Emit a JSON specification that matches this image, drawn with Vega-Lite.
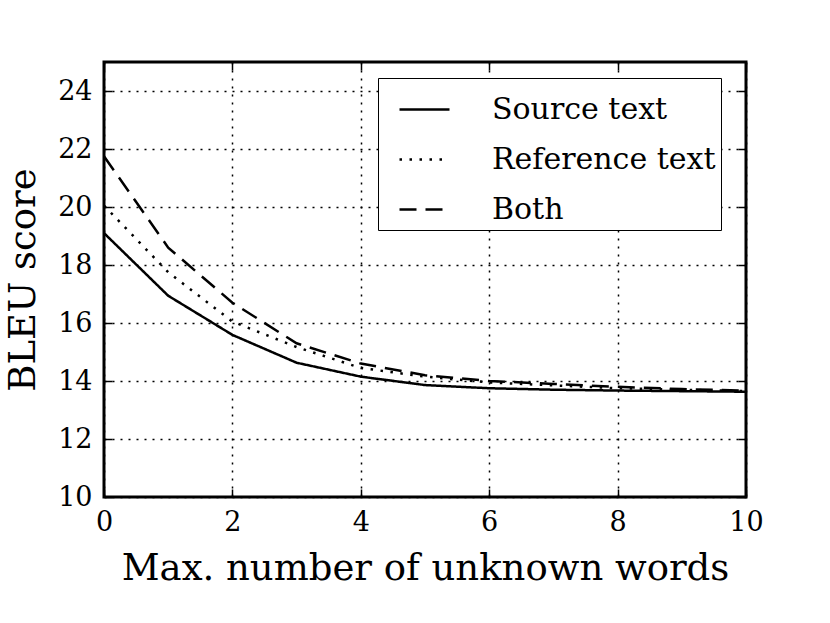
{
  "$schema": "https://vega.github.io/schema/vega-lite/v6.json",
  "width": 642,
  "height": 435,
  "autosize": {"type": "none"},
  "padding": {"left": 104, "top": 62, "right": 84, "bottom": 126},
  "background": "white",
  "config": {
    "font": "DejaVu Serif",
    "view": {"stroke": "black", "strokeWidth": 3},
    "axis": {"labelFont": "DejaVu Serif", "titleFont": "DejaVu Serif", "labelColor": "black", "titleColor": "black", "titleFontWeight": "normal"}
  },
  "data": {"values": [
    {"x": 0, "y": 19.1, "s": "Source text"},
    {"x": 1, "y": 16.94, "s": "Source text"},
    {"x": 2, "y": 15.59, "s": "Source text"},
    {"x": 3, "y": 14.63, "s": "Source text"},
    {"x": 4, "y": 14.15, "s": "Source text"},
    {"x": 5, "y": 13.86, "s": "Source text"},
    {"x": 6, "y": 13.75, "s": "Source text"},
    {"x": 7, "y": 13.7, "s": "Source text"},
    {"x": 8, "y": 13.67, "s": "Source text"},
    {"x": 9, "y": 13.65, "s": "Source text"},
    {"x": 10, "y": 13.63, "s": "Source text"},
    {"x": 0, "y": 20.05, "s": "Reference text"},
    {"x": 1, "y": 17.75, "s": "Reference text"},
    {"x": 2, "y": 16.05, "s": "Reference text"},
    {"x": 3, "y": 15.17, "s": "Reference text"},
    {"x": 4, "y": 14.45, "s": "Reference text"},
    {"x": 5, "y": 14.15, "s": "Reference text"},
    {"x": 6, "y": 13.95, "s": "Reference text"},
    {"x": 7, "y": 13.85, "s": "Reference text"},
    {"x": 8, "y": 13.75, "s": "Reference text"},
    {"x": 9, "y": 13.7, "s": "Reference text"},
    {"x": 10, "y": 13.65, "s": "Reference text"},
    {"x": 0, "y": 21.75, "s": "Both"},
    {"x": 1, "y": 18.6, "s": "Both"},
    {"x": 2, "y": 16.7, "s": "Both"},
    {"x": 3, "y": 15.3, "s": "Both"},
    {"x": 4, "y": 14.6, "s": "Both"},
    {"x": 5, "y": 14.2, "s": "Both"},
    {"x": 6, "y": 14.0, "s": "Both"},
    {"x": 7, "y": 13.9, "s": "Both"},
    {"x": 8, "y": 13.8, "s": "Both"},
    {"x": 9, "y": 13.72, "s": "Both"},
    {"x": 10, "y": 13.67, "s": "Both"}
  ]},
  "layer": [
    {
      "mark": {"type": "line", "color": "black", "strokeWidth": 2.5},
      "encoding": {
        "x": {"field": "x", "type": "quantitative", "scale": {"domain": [0, 10], "nice": false},
          "axis": {"values": [0, 2, 4, 6, 8, 10], "title": "Max. number of unknown words", "titleFontSize": 37, "titlePadding": 15,
            "labelFontSize": 27, "labelPadding": 20, "labelFlush": false, "tickSize": -8, "tickColor": "black", "tickWidth": 1.5,
            "domain": false, "grid": true, "gridColor": "black", "gridDash": [2, 6], "gridWidth": 1.5, "gridOpacity": 1}},
        "y": {"field": "y", "type": "quantitative", "scale": {"domain": [10, 25], "nice": false, "zero": false},
          "axis": {"values": [10, 12, 14, 16, 18, 20, 22, 24], "title": "BLEU score", "titleFontSize": 37, "titlePadding": 15,
            "labelFontSize": 27, "labelPadding": 20, "labelFlush": false, "tickSize": -8, "tickColor": "black", "tickWidth": 1.5,
            "domain": false, "grid": true, "gridColor": "black", "gridDash": [2, 6], "gridWidth": 1.5, "gridOpacity": 1}},
        "strokeDash": {"field": "s", "type": "nominal",
          "scale": {"domain": ["Source text", "Reference text", "Both"], "range": [[1, 0], [2.5, 7.5], [17, 9]]},
          "legend": {"title": null, "orient": "none", "legendX": 274, "legendY": 16,
            "symbolType": "stroke", "symbolSize": 2500, "symbolStrokeWidth": 2.5, "symbolStrokeColor": "black", "symbolOffset": 15,
            "labelFontSize": 30, "labelFont": "DejaVu Serif", "labelColor": "black", "labelOffset": 41, "labelLimit": 500,
            "rowPadding": 8, "padding": 5, "strokeColor": "black", "fillColor": "white", "cornerRadius": 0}}
      }
    },
    {
      "mark": {"type": "point", "opacity": 0},
      "encoding": {
        "x": {"field": "x", "type": "quantitative",
          "axis": {"orient": "top", "values": [0, 2, 4, 6, 8, 10], "title": null, "labels": false, "tickSize": -8, "tickColor": "black", "tickWidth": 1.5, "domain": false, "grid": false}},
        "y": {"field": "y", "type": "quantitative",
          "axis": {"orient": "right", "values": [10, 12, 14, 16, 18, 20, 22, 24], "title": null, "labels": false, "tickSize": -8, "tickColor": "black", "tickWidth": 1.5, "domain": false, "grid": false}}
      }
    }
  ],
  "resolve": {"axis": {"x": "independent", "y": "independent"}}
}
